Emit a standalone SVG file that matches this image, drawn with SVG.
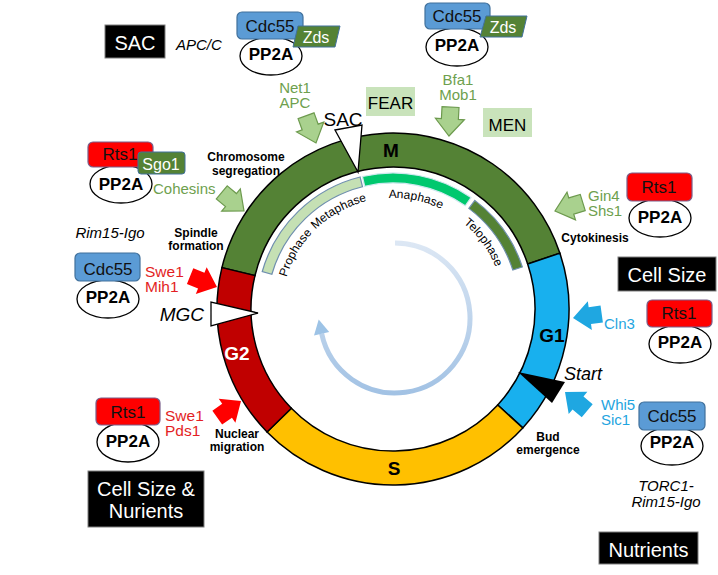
<svg xmlns="http://www.w3.org/2000/svg" width="718" height="575" viewBox="0 0 718 575">
<defs>
<style>
text{font-family:"Liberation Sans",Arial,sans-serif}
.pp{fill:#fff;stroke:#000;stroke-width:1.3}
.ppt{font-size:17px;font-weight:bold;text-anchor:middle;fill:#000}
.cdc{fill:#5b9bd5;stroke:#41719c;stroke-width:1.2}
.rts{fill:#ff0000;stroke:#7a5f8a;stroke-width:1.2}
.sub{font-size:17px;text-anchor:middle;fill:#111}
.zds{fill:#548235;stroke:#41719c;stroke-width:1}
.wt{fill:#fff;text-anchor:middle;font-size:16px}
.blk{fill:#000;stroke:#7f7f7f;stroke-width:1}
.box{font-size:20px;fill:#fff;text-anchor:middle}
.g{fill:#6e9f4e;font-size:15px}
.r{fill:#e31e24;font-size:15.5px}
.b{fill:#1fa5e0;font-size:15px}
.lbl{font-size:12px;font-weight:bold;text-anchor:middle;fill:#000}
.it{font-style:italic;fill:#000}
.nt{fill:#000}
.seg{stroke:#000;stroke-width:1.5}
.ph{font-size:12px;fill:#000;text-anchor:middle}
.ga{fill:#a9d18e;stroke:#6d9a4e;stroke-width:1.2}
.ra{fill:#ff0000}
.ba{fill:#1fa7e1}
.fb{fill:#c9e3bb}
.fbt{font-size:17px;fill:#000;text-anchor:middle}
.sl{font-size:19px;font-weight:bold;text-anchor:middle}
</style>
<path id="arw" d="M-29,-8.5 H-17 V-14.5 L0,0 L-17,14.5 V8.5 H-29 Z"/>
<path id="arc" d="M282,309 A111 111 0 0 1 504,309" fill="none"/>
<linearGradient id="bl" x1="0" y1="0" x2="0" y2="1">
<stop offset="0" stop-color="#dce7f4"/>
<stop offset="1" stop-color="#a2c2e4"/>
</linearGradient>
</defs>

<g id="cell-cycle-ring">
<path id="seg-M" class="seg" fill="#548235" d="M221.93,267.62 A176,176 0 0 1 559.90,253.16 L527.66,263.94 A142,142 0 0 0 254.98,275.62 Z"/>
<path id="seg-G1" class="seg" fill="#18b0ee" d="M559.90,253.16 A176,176 0 0 1 522.76,427.91 L497.70,404.94 A142,142 0 0 0 527.66,263.94 Z"/>
<path id="seg-S" class="seg" fill="#ffc000" d="M522.76,427.91 A176,176 0 0 1 267.04,431.92 L291.37,408.17 A142,142 0 0 0 497.70,404.94 Z"/>
<path id="seg-G2" class="seg" fill="#c00000" d="M267.04,431.92 A176,176 0 0 1 221.93,267.62 L254.98,275.62 A142,142 0 0 0 291.37,408.17 Z"/>
<text class="sl" x="391" y="157" fill="#000">M</text>
<text class="sl" x="552" y="342" fill="#000">G1</text>
<text class="sl" x="394" y="475" fill="#000">S</text>
<text class="sl" x="237" y="360" fill="#fff">G2</text>
</g>

<g id="phases">
<path fill="#c5e0b4" stroke="#6f8fae" stroke-width="1.2" d="M262.26,271.52 A136,136 0 0 1 360.10,177.04 L362.52,186.74 A126,126 0 0 0 271.88,274.27 Z"/>
<path fill="#00c86e" stroke="#d0e8f0" stroke-width="1.2" d="M362.40,176.48 A136,136 0 0 1 471.01,197.59 L465.27,205.78 A126,126 0 0 0 364.65,186.23 Z"/>
<path fill="#548235" stroke="#6f8fae" stroke-width="1.2" d="M474.84,200.39 A136,136 0 0 1 522.35,266.98 L512.84,270.07 A126,126 0 0 0 468.83,208.38 Z"/>
<text class="ph"><textPath href="#arc" startOffset="58">Prophase</textPath></text>
<text class="ph"><textPath href="#arc" startOffset="118">Metaphase</textPath></text>
<text class="ph"><textPath href="#arc" startOffset="197">Anaphase</textPath></text>
<text class="ph"><textPath href="#arc" startOffset="278">Telophase</textPath></text>
</g>

<g id="cycle-arrow">
<path d="M395,243 A75 75 0 1 1 321.64,333.59" fill="none" stroke="url(#bl)" stroke-width="5"/>
<polygon points="318.7,319.5 314.0,335.4 329.2,332.0" fill="#9dc3e6"/>
</g>

<g id="checkpoints">
<polygon id="sac-tri" points="335,130 362,125 358,172" fill="#fff" stroke="#000" stroke-width="1.3"/>
<text class="nt" x="343" y="126" font-size="19" text-anchor="middle">SAC</text>
<polygon id="mgc-tri" points="211,302 211,326 258,313" fill="#fff" stroke="#000" stroke-width="1.3"/>
<text class="it" x="204" y="321" font-size="19" text-anchor="end">MGC</text>
<polygon id="start-tri" points="518,372 565,382 552,403" fill="#000"/>
<text class="it" x="564" y="380" font-size="18">Start</text>
</g>

<g id="fear"><rect class="fb" x="366" y="87" width="49" height="29"/><text class="fbt" x="390.5" y="109">FEAR</text></g>
<g id="men"><rect class="fb" x="483" y="108" width="49" height="29"/><text class="fbt" x="507.5" y="131">MEN</text></g>

<g id="box-sac"><rect class="blk" x="105" y="25" width="60" height="33"/><text class="box" x="135" y="50">SAC</text></g>
<text class="it" x="176" y="50" font-size="15">APC/C</text>
<g id="box-cellsize"><rect class="blk" x="618" y="257" width="98" height="34"/><text class="box" x="667" y="282">Cell Size</text></g>
<g id="box-nutrients"><rect class="blk" x="599" y="532" width="99" height="32"/><text class="box" x="648.5" y="557" font-size="19">Nutrients</text></g>
<g id="box-cellsize-nutrients"><rect class="blk" x="88" y="471" width="116" height="56"/><text class="box" x="146" y="496" font-size="19">Cell Size &amp;</text><text class="box" x="146" y="518" font-size="19">Nurients</text></g>
<text class="it" x="110" y="238" font-size="15" text-anchor="middle">Rim15-Igo</text>
<text class="it" x="666" y="491" font-size="15" text-anchor="middle">TORC1-</text>
<text class="it" x="666" y="507" font-size="15" text-anchor="middle">Rim15-Igo</text>

<g id="pp2a-cdc55-zds-1">
<ellipse class="pp" cx="271" cy="56" rx="31" ry="19"/>
<rect class="cdc" x="237" y="12" width="66" height="27" rx="5"/>
<text class="sub" x="270" y="32">Cdc55</text>
<polygon class="zds" points="298,26 340,26 335,47 293,47"/>
<text class="wt" x="316" y="43">Zds</text>
<text class="ppt" x="271" y="60">PP2A</text>
</g>
<g id="pp2a-cdc55-zds-2">
<ellipse class="pp" cx="457" cy="47" rx="31" ry="19"/>
<rect class="cdc" x="425" y="3" width="65" height="26" rx="5"/>
<text class="sub" x="457" y="22">Cdc55</text>
<polygon class="zds" points="486,16 527,16 522,37 480,37"/>
<text class="wt" x="503" y="33">Zds</text>
<text class="ppt" x="457" y="51">PP2A</text>
</g>
<g id="pp2a-rts1-sgo1">
<ellipse class="pp" cx="121" cy="184" rx="31" ry="19"/>
<rect class="rts" x="88" y="142" width="65" height="25" rx="5"/>
<text class="sub" x="120" y="160">Rts1</text>
<rect class="zds" x="138" y="152" width="47" height="22" rx="3"/>
<text class="wt" x="161" y="170">Sgo1</text>
<text class="ppt" x="121" y="190">PP2A</text>
</g>
<g id="pp2a-cdc55-left">
<ellipse class="pp" cx="108" cy="299" rx="31" ry="19"/>
<rect class="cdc" x="75" y="253" width="65" height="28" rx="5"/>
<text class="sub" x="108" y="275">Cdc55</text>
<text class="ppt" x="108" y="303">PP2A</text>
</g>
<g id="pp2a-rts1-lower-left">
<ellipse class="pp" cx="128" cy="442" rx="31" ry="20"/>
<rect class="rts" x="96" y="398" width="64" height="27" rx="5"/>
<text class="sub" x="128" y="418">Rts1</text>
<text class="ppt" x="128" y="447">PP2A</text>
</g>
<g id="pp2a-rts1-top-right">
<ellipse class="pp" cx="660" cy="218" rx="31" ry="19"/>
<rect class="rts" x="627" y="173" width="65" height="28" rx="5"/>
<text class="sub" x="659" y="193">Rts1</text>
<text class="ppt" x="660" y="223">PP2A</text>
</g>
<g id="pp2a-rts1-right">
<ellipse class="pp" cx="680" cy="344" rx="31" ry="19"/>
<rect class="rts" x="647" y="300" width="65" height="27" rx="5"/>
<text class="sub" x="679" y="319">Rts1</text>
<text class="ppt" x="680" y="348">PP2A</text>
</g>
<g id="pp2a-cdc55-bottom-right">
<ellipse class="pp" cx="672" cy="446" rx="31" ry="19"/>
<rect class="cdc" x="639" y="402" width="66" height="28" rx="5"/>
<text class="sub" x="672" y="422">Cdc55</text>
<text class="ppt" x="672" y="448">PP2A</text>
</g>

<g id="process-labels">
<text class="lbl" x="246" y="161">Chromosome</text>
<text class="lbl" x="246" y="175">segregation</text>
<text class="lbl" x="196" y="237">Spindle</text>
<text class="lbl" x="196" y="250">formation</text>
<text class="lbl" x="595" y="242">Cytokinesis</text>
<text class="lbl" x="548" y="441">Bud</text>
<text class="lbl" x="548" y="454">emergence</text>
<text class="lbl" x="237" y="438">Nuclear</text>
<text class="lbl" x="237" y="451">migration</text>
</g>

<g id="substrates">
<text class="g" x="295" y="93" text-anchor="middle">Net1</text>
<text class="g" x="295" y="108" text-anchor="middle">APC</text>
<text class="g" x="458" y="85" text-anchor="middle">Bfa1</text>
<text class="g" x="458" y="100" text-anchor="middle">Mob1</text>
<text class="g" x="153" y="194">Cohesins</text>
<text class="g" x="588" y="201">Gin4</text>
<text class="g" x="588" y="216">Shs1</text>
<text class="r" x="145" y="277">Swe1</text>
<text class="r" x="145" y="292">Mih1</text>
<text class="r" x="165" y="421">Swe1</text>
<text class="r" x="165" y="436">Pds1</text>
<text class="b" x="604" y="329">Cln3</text>
<text class="b" x="601" y="410">Whi5</text>
<text class="b" x="601" y="425">Sic1</text>
</g>

<g id="connectors">
<use href="#arw" class="ga" transform="translate(316,143) rotate(70)"/>
<use href="#arw" class="ga" transform="translate(449,136) rotate(93)"/>
<use href="#arw" class="ga" transform="translate(244,211) rotate(40)"/>
<use href="#arw" class="ga" transform="translate(555,211) rotate(163)"/>
<use href="#arw" class="ra" transform="translate(217,287) rotate(22)"/>
<use href="#arw" class="ra" transform="translate(241,401) rotate(-35)"/>
<use href="#arw" class="ba" transform="translate(573,318) rotate(172)"/>
<use href="#arw" class="ba" transform="translate(565,392) rotate(-140)"/>
</g>
</svg>
